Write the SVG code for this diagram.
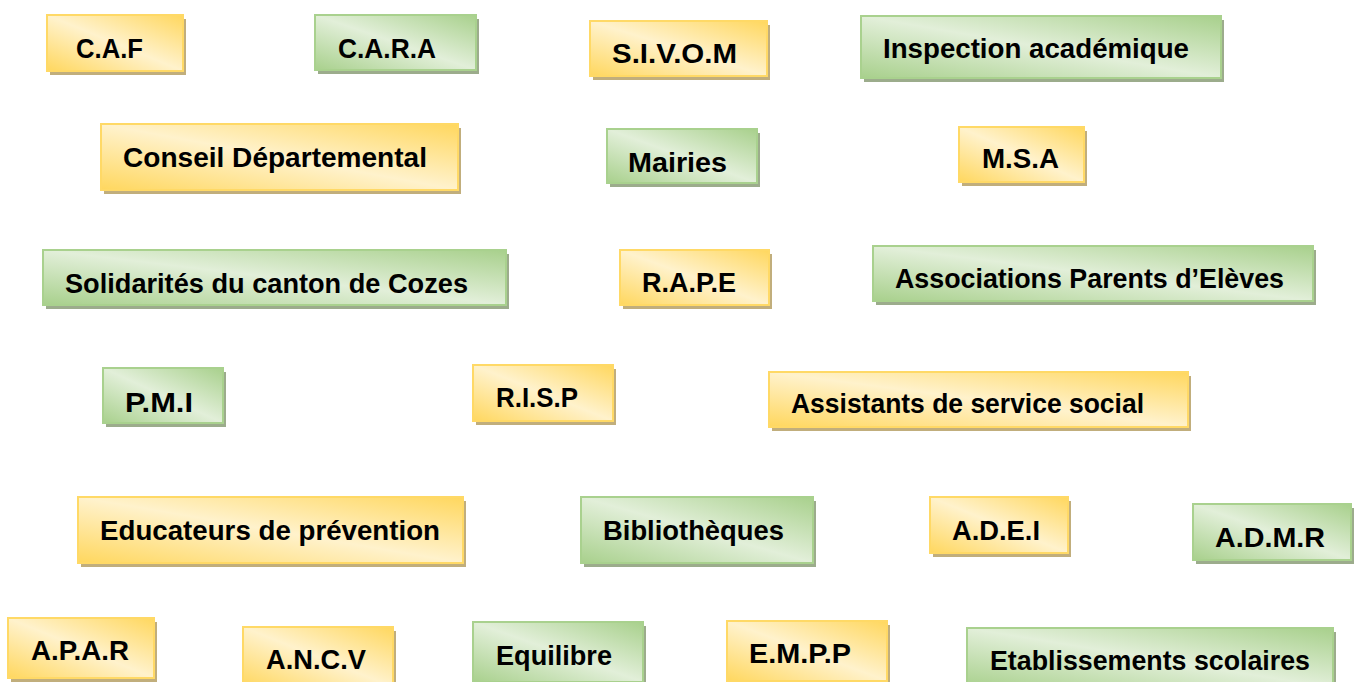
<svg xmlns="http://www.w3.org/2000/svg" width="1355" height="682" viewBox="0 0 1355 682">
<defs>
<linearGradient id="gy" x1="1" y1="0" x2="0" y2="1">
<stop offset="0" stop-color="#ffd75e"/>
<stop offset="0.5" stop-color="#fff2cc"/>
<stop offset="1" stop-color="#ffd75e"/>
</linearGradient>
<linearGradient id="gg" x1="1" y1="0" x2="0" y2="1">
<stop offset="0" stop-color="#a8d08c"/>
<stop offset="0.5" stop-color="#e2efd9"/>
<stop offset="1" stop-color="#a8d08c"/>
</linearGradient>
<style>
.sy{fill:#c1ae7c}
.sg{fill:#9cac8c}
.y{fill:url(#gy);stroke:#ffd966;stroke-width:2}
.g{fill:url(#gg);stroke:#a9d18e;stroke-width:2}
text{font-family:"Liberation Sans",Arial,sans-serif;font-weight:bold;font-size:28px;fill:#000}
</style>
</defs>
<rect width="1355" height="682" fill="#ffffff"/>
<g id="connectors"></g>
<g id="caf"><rect class="sy" x="50" y="19" width="136" height="56"/><rect class="y" x="47" y="15" width="136" height="56"/><text x="76" y="58" textLength="67" lengthAdjust="spacingAndGlyphs">C.A.F</text></g>
<g id="cara"><rect class="sg" x="318" y="19" width="161" height="55"/><rect class="g" x="315" y="15" width="161" height="55"/><text x="338" y="58" textLength="98" lengthAdjust="spacingAndGlyphs">C.A.R.A</text></g>
<g id="sivom"><rect class="sy" x="593" y="25" width="177" height="55"/><rect class="y" x="590" y="21" width="177" height="55"/><text x="612" y="63" textLength="125" lengthAdjust="spacingAndGlyphs">S.I.V.O.M</text></g>
<g id="inspection"><rect class="sg" x="864" y="20" width="360" height="62"/><rect class="g" x="861" y="16" width="360" height="62"/><text x="883" y="58" textLength="306" lengthAdjust="spacingAndGlyphs">Inspection académique</text></g>
<g id="conseil"><rect class="sy" x="104" y="128" width="357" height="66"/><rect class="y" x="101" y="124" width="357" height="66"/><text x="123" y="167" textLength="304" lengthAdjust="spacingAndGlyphs">Conseil Départemental</text></g>
<g id="mairies"><rect class="sg" x="610" y="133" width="150" height="54"/><rect class="g" x="607" y="129" width="150" height="54"/><text x="628" y="172" textLength="99" lengthAdjust="spacingAndGlyphs">Mairies</text></g>
<g id="msa"><rect class="sy" x="962" y="131" width="125" height="55"/><rect class="y" x="959" y="127" width="125" height="55"/><text x="982" y="168" textLength="77" lengthAdjust="spacingAndGlyphs">M.S.A</text></g>
<g id="solidarites"><rect class="sg" x="46" y="254" width="463" height="55"/><rect class="g" x="43" y="250" width="463" height="55"/><text x="65" y="293" textLength="403" lengthAdjust="spacingAndGlyphs">Solidarités du canton de Cozes</text></g>
<g id="rape"><rect class="sy" x="623" y="254" width="149" height="55"/><rect class="y" x="620" y="250" width="149" height="55"/><text x="642" y="292" textLength="94" lengthAdjust="spacingAndGlyphs">R.A.P.E</text></g>
<g id="associations"><rect class="sg" x="876" y="250" width="440" height="55"/><rect class="g" x="873" y="246" width="440" height="55"/><text x="895" y="288" textLength="389" lengthAdjust="spacingAndGlyphs">Associations Parents d’Elèves</text></g>
<g id="pmi"><rect class="sg" x="106" y="372" width="120" height="55"/><rect class="g" x="103" y="368" width="120" height="55"/><text x="125" y="412" textLength="68" lengthAdjust="spacingAndGlyphs">P.M.I</text></g>
<g id="risp"><rect class="sy" x="476" y="369" width="140" height="56"/><rect class="y" x="473" y="365" width="140" height="56"/><text x="496" y="407" textLength="82" lengthAdjust="spacingAndGlyphs">R.I.S.P</text></g>
<g id="assistants"><rect class="sy" x="772" y="376" width="419" height="55"/><rect class="y" x="769" y="372" width="419" height="55"/><text x="791" y="413" textLength="353" lengthAdjust="spacingAndGlyphs">Assistants de service social</text></g>
<g id="educateurs"><rect class="sy" x="81" y="501" width="385" height="66"/><rect class="y" x="78" y="497" width="385" height="66"/><text x="100" y="540" textLength="340" lengthAdjust="spacingAndGlyphs">Educateurs de prévention</text></g>
<g id="bibliotheques"><rect class="sg" x="584" y="501" width="232" height="66"/><rect class="g" x="581" y="497" width="232" height="66"/><text x="603" y="540" textLength="181" lengthAdjust="spacingAndGlyphs">Bibliothèques</text></g>
<g id="adei"><rect class="sy" x="933" y="501" width="138" height="56"/><rect class="y" x="930" y="497" width="138" height="56"/><text x="952" y="540" textLength="88" lengthAdjust="spacingAndGlyphs">A.D.E.I</text></g>
<g id="admr"><rect class="sg" x="1196" y="508" width="158" height="56"/><rect class="g" x="1193" y="504" width="158" height="56"/><text x="1215" y="547" textLength="110" lengthAdjust="spacingAndGlyphs">A.D.M.R</text></g>
<g id="apar"><rect class="sy" x="11" y="622" width="146" height="60"/><rect class="y" x="8" y="618" width="146" height="60"/><text x="31" y="660" textLength="98" lengthAdjust="spacingAndGlyphs">A.P.A.R</text></g>
<g id="ancv"><rect class="sy" x="246" y="631" width="150" height="60"/><rect class="y" x="243" y="627" width="150" height="60"/><text x="266" y="669" textLength="100" lengthAdjust="spacingAndGlyphs">A.N.C.V</text></g>
<g id="equilibre"><rect class="sg" x="476" y="626" width="170" height="60"/><rect class="g" x="473" y="622" width="170" height="60"/><text x="496" y="665" textLength="116" lengthAdjust="spacingAndGlyphs">Equilibre</text></g>
<g id="empp"><rect class="sy" x="730" y="625" width="160" height="60"/><rect class="y" x="727" y="621" width="160" height="60"/><text x="749" y="663" textLength="102" lengthAdjust="spacingAndGlyphs">E.M.P.P</text></g>
<g id="etablissements"><rect class="sg" x="970" y="632" width="366" height="60"/><rect class="g" x="967" y="628" width="366" height="60"/><text x="990" y="670" textLength="320" lengthAdjust="spacingAndGlyphs">Etablissements scolaires</text></g>
</svg>
